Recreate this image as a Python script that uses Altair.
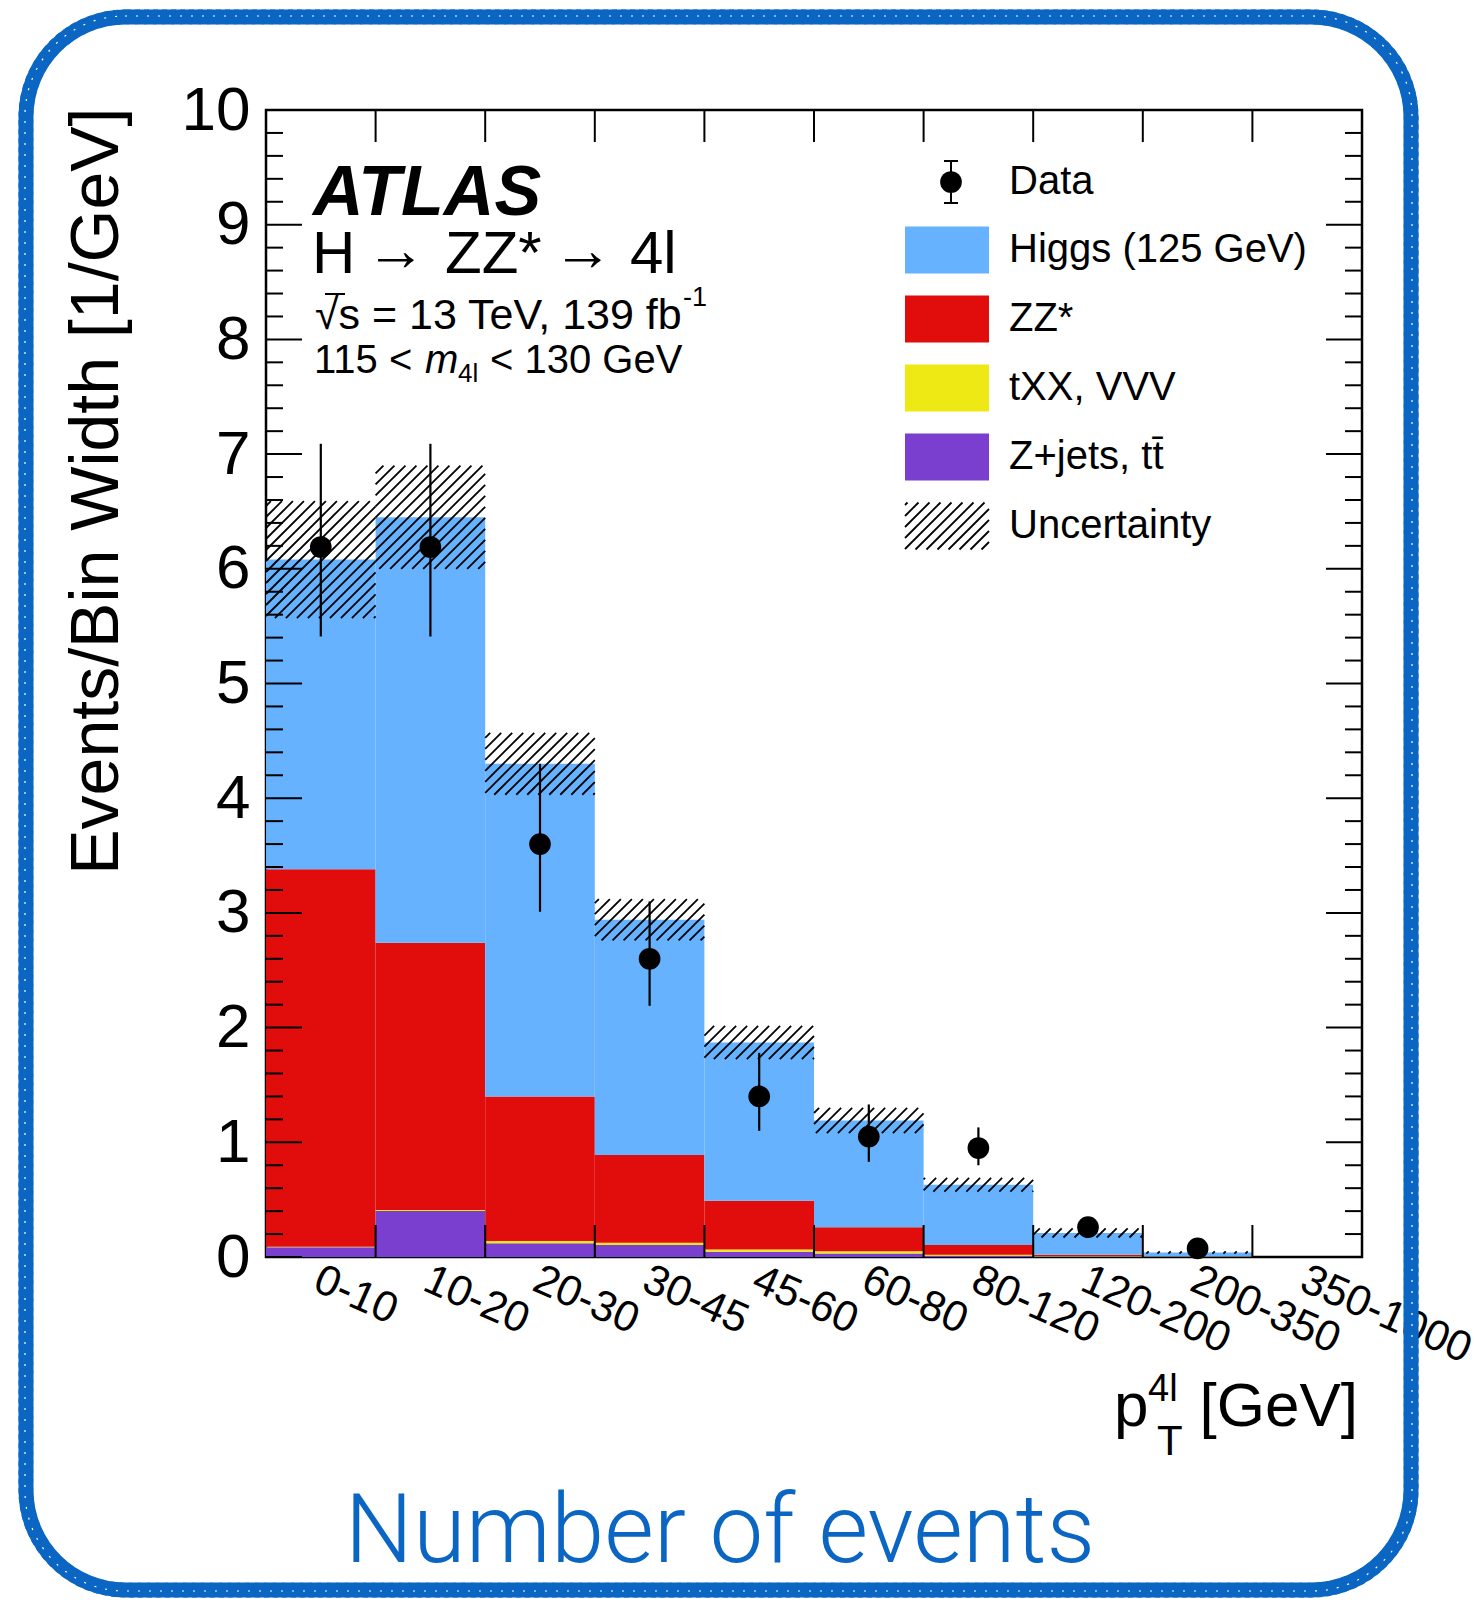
import altair as alt
import numpy as np
import pandas as pd

# ---------------------------------------------------------------- data
bin_labels = ["0-10", "10-20", "20-30", "30-45", "45-60", "60-80",
              "80-120", "120-200", "200-350", "350-1000"]

# expected yields per bin width, stacked bottom -> top
zjets_tt = [0.085, 0.40, 0.12, 0.105, 0.045, 0.03, 0.01, 0.004, 0.001, 0.0]
txx_vvv = [0.005, 0.01, 0.02, 0.02, 0.02, 0.02, 0.01, 0.004, 0.001, 0.0]
zz_star = [3.29, 2.33, 1.26, 0.765, 0.425, 0.21, 0.085, 0.012, 0.003, 0.0]
higgs = [2.70, 3.71, 2.90, 2.05, 1.38, 0.93, 0.525, 0.19, 0.035, 0.0]
# total uncertainty on the prediction (symmetric)
pred_unc = [0.51, 0.45, 0.27, 0.18, 0.145, 0.11, 0.06, 0.04, 0.01, 0.0]

# observed data (first nine bins)
data_val = [6.19, 6.19, 3.60, 2.60, 1.40, 1.05, 0.95, 0.26, 0.075]
data_lo = [5.41, 5.41, 3.01, 2.19, 1.10, 0.83, 0.80, 0.20, 0.05]
data_hi = [7.09, 7.09, 4.30, 3.10, 1.78, 1.33, 1.13, 0.32, 0.10]

process_names = ["Z+jets, t\u0074\u0304", "tXX, VVV", "ZZ*", "Higgs (125 GeV)"]
process_colors = ["#7b3fd0", "#eee914", "#e10c0c", "#66b2ff"]
process_values = [zjets_tt, txx_vvv, zz_star, higgs]

# ---------------------------------------------------------------- layout
W, H = 1096, 1147          # plot area
OX, OY = 266, 110          # plot origin on the page
PX_X = W / 10.0
PX_Y = H / 10.0
FONT = "Liberation Sans"
BLUE = "#0a66c2"


def dx(px):
    return px / PX_X


def dy(py):
    return (H - py) / PX_Y


label_js = "[" + ",".join("'%s'" % s for s in bin_labels) + "]"

x_scale = alt.Scale(domain=[0, 10], nice=False, zero=False)
y_scale = alt.Scale(domain=[0, 10], nice=False, zero=False)

# one axis definition shared by every layer so the layered axes merge
x_axis = alt.Axis(values=[i + 0.535 for i in range(10)],
                  labelExpr=label_js + "[floor(datum.value)]",
                  ticks=False, domain=False, grid=False,
                  labelAngle=24, labelAlign="left", labelBaseline="top",
                  labelFontSize=43, labelFont=FONT, labelColor="black",
                  labelPadding=1, labelOverlap=False, labelBound=False,
                  labelFlush=False, labelLimit=600, title=None)
y_axis = alt.Axis(values=list(range(11)), ticks=False, domain=False, grid=False,
                  labelFontSize=62, labelFont=FONT, labelColor="black",
                  labelPadding=16, labelOverlap=False, labelFlush=False,
                  title="Events/Bin Width [1/GeV]", titleFont=FONT,
                  titleFontSize=68, titleFontWeight="normal", titleColor="black",
                  titleAngle=270, titleAlign="right", titleBaseline="alphabetic",
                  titleX=117 - OX, titleY=107 - OY)


def X(field):
    return alt.X(field, scale=x_scale, axis=x_axis)


def Y(field):
    return alt.Y(field, scale=y_scale, axis=y_axis)


# ---------------------------------------------------------------- stacked histogram
rows = []
for i in range(len(bin_labels)):
    base = 0.0
    for name, vals in zip(process_names, process_values):
        v = vals[i]
        if v > 0:
            rows.append({"x0": i, "x1": i + 1, "y0": base, "y1": base + v, "process": name})
        base += v
stack_df = pd.DataFrame(rows)

totals = np.sum(np.array(process_values), axis=0)

stack = alt.Chart(stack_df).mark_rect().encode(
    x=X("x0:Q"), x2="x1:Q",
    y=Y("y0:Q"), y2="y1:Q",
    color=alt.Color("process:N", scale=alt.Scale(domain=process_names, range=process_colors),
                    legend=None),
)

# ---------------------------------------------------------------- hatching
HATCH_STEP = 11.0


def hatch(x0, x1, y0, y1):
    """45-degree hatch segments inside a pixel box (y0 top, y1 bottom)."""
    segs = []
    c = np.ceil((x0 + y0) / HATCH_STEP) * HATCH_STEP
    while c <= x1 + y1:
        xa = max(x0, c - y1)
        xb = min(x1, c - y0)
        if xb - xa > 0.5:
            segs.append({"x0": dx(xa), "y0": dy(c - xa), "x1": dx(xb), "y1": dy(c - xb)})
        c += HATCH_STEP
    return segs


hatch_rows = []
for i, (t, u) in enumerate(zip(totals, pred_unc)):
    if u <= 0:
        continue
    hatch_rows += hatch(i * PX_X, (i + 1) * PX_X, H - (t + u) * PX_Y, H - (t - u) * PX_Y)

# legend rows (page y of each entry centre)
legend_y = [182, 250, 319, 388, 457, 526]
BOX_X0, BOX_X1, BOX_H = 905, 989, 47
TEXT_X = 1009
MARK_X = 951

ly = legend_y[5] - OY
hatch_rows += hatch(BOX_X0 - OX, BOX_X1 - OX, ly - BOX_H / 2, ly + BOX_H / 2)
hatch_df = pd.DataFrame(hatch_rows)

hatch_layer = alt.Chart(hatch_df).mark_rule(color="black", strokeWidth=1.8).encode(
    x=X("x0:Q"), x2="x1:Q", y=Y("y0:Q"), y2="y1:Q",
)

# ---------------------------------------------------------------- data points
data_df = pd.DataFrame({
    "x0": [i + 0.5 for i in range(len(data_val))],
    "y0": data_val, "lo": data_lo, "hi": data_hi,
})
err_layer = alt.Chart(data_df).mark_rule(color="black", strokeWidth=2.2).encode(
    x=X("x0:Q"), y=Y("lo:Q"), y2="hi:Q",
)
pts_layer = alt.Chart(data_df).mark_circle(color="black", opacity=1, size=470).encode(
    x=X("x0:Q"), y=Y("y0:Q"),
)

# ---------------------------------------------------------------- inward ticks
yt = np.round(np.arange(0, 10.0001, 0.2), 3)
ytick_df = pd.DataFrame({"y0": yt, "major": [abs(v - round(v)) < 1e-6 for v in yt]})
major_df = ytick_df[ytick_df.major]
minor_df = ytick_df[~ytick_df.major]


def ytick(df, length, right):
    x0 = W if right else 0
    x1 = W - length if right else length
    return alt.Chart(df).mark_rule(color="black", strokeWidth=2).encode(
        y=Y("y0:Q"), x=alt.value(x0), x2=alt.value(x1),
    )


xtick_df = pd.DataFrame({"x0": list(range(1, 10))})


def xtick(top):
    y0, y1 = (0, 32) if top else (H, H - 32)
    return alt.Chart(xtick_df).mark_rule(color="black", strokeWidth=2).encode(
        x=X("x0:Q"), y=alt.value(y0), y2=alt.value(y1),
    )


tick_layers = [ytick(major_df, 36, False), ytick(minor_df, 17, False),
               ytick(major_df, 36, True), ytick(minor_df, 17, True),
               xtick(False), xtick(True)]


# ---------------------------------------------------------------- text helpers
def text(s, px, py, size, weight="normal", style="normal", align="left",
         baseline="alphabetic", color="black", font=FONT):
    return alt.Chart(pd.DataFrame({"t": [s]})).mark_text(
        align=align, baseline=baseline, fontSize=size, fontWeight=weight,
        fontStyle=style, font=font, color=color,
    ).encode(text="t:N", x=alt.value(px - OX), y=alt.value(py - OY))


def hline(px0, px1, py, width=2, color="black"):
    return alt.Chart(pd.DataFrame({"a": [0]})).mark_rule(color=color, strokeWidth=width).encode(
        x=alt.value(px0 - OX), x2=alt.value(px1 - OX), y=alt.value(py - OY))


def vline(px, py0, py1, width=2, color="black"):
    return alt.Chart(pd.DataFrame({"a": [0]})).mark_rule(color=color, strokeWidth=width).encode(
        x=alt.value(px - OX), y=alt.value(py0 - OY), y2=alt.value(py1 - OY))


annot = [
    text("ATLAS", 313, 215, 70, weight="bold", style="italic"),
    text("H", 312, 273, 60),
    text("\u2192", 366, 270, 60),
    text("ZZ*", 445, 273, 60),
    text("\u2192", 553, 270, 60),
    text("4l", 630, 273, 60),
    text("\u221as = 13 TeV, 139 fb", 315, 329, 43),
    hline(325, 345, 294, width=2),
    text("-1", 683, 306, 27),
    text("115 <", 314, 373, 40),
    text("m", 425, 373, 40, style="italic"),
    text("4l", 458, 382, 26),
    text("< 130 GeV", 490, 373, 40),
    # x-axis title
    text("p", 1114, 1426, 62),
    text("4l", 1148, 1401, 38),
    text("T", 1157, 1455, 42),
    text("[GeV]", 1358, 1426, 62, align="right"),
]

# ---------------------------------------------------------------- legend
legend_layers = []
legend_labels = ["Data"] + process_names[::-1] + ["Uncertainty"]
for k, lab in enumerate(legend_labels):
    legend_layers.append(text(lab, TEXT_X, legend_y[k], 40, baseline="middle"))

for k, (name, col) in enumerate(zip(process_names[::-1], process_colors[::-1])):
    yc = legend_y[k + 1]
    legend_layers.append(
        alt.Chart(pd.DataFrame({"a": [0]})).mark_rect(color=col).encode(
            x=alt.value(BOX_X0 - OX), x2=alt.value(BOX_X1 - OX),
            y=alt.value(yc - BOX_H / 2 - OY), y2=alt.value(yc + BOX_H / 2 - OY)))

yd = legend_y[0]
legend_layers += [
    vline(MARK_X, yd - 21, yd + 21),
    hline(MARK_X - 7, MARK_X + 7, yd - 21),
    hline(MARK_X - 7, MARK_X + 7, yd + 21),
    alt.Chart(pd.DataFrame({"a": [0]})).mark_circle(color="black", opacity=1, size=470).encode(
        x=alt.value(MARK_X - OX), y=alt.value(yd - OY)),
]


# ---------------------------------------------------------------- frame + caption
def frame(inset, width, color, dash=None, radius=100):
    kw = dict(fillOpacity=0, stroke=color, strokeWidth=width, cornerRadius=radius)
    if dash:
        kw["strokeDash"] = dash
    return alt.Chart(pd.DataFrame({"a": [0]})).mark_rect(**kw).encode(
        x=alt.value(26 - inset - OX), x2=alt.value(1411 + inset - OX),
        y=alt.value(17 - inset - OY), y2=alt.value(1590 + inset - OY))


border = [
    frame(0, 15, BLUE),
    frame(6, 3, BLUE, dash=[5, 4], radius=106),
    frame(-6, 2.5, BLUE, dash=[3, 6], radius=94),
    frame(1, 1.2, "white", dash=[2, 9]),
]

caption = text("Number of events", 720, 1562, 96, color=BLUE, font="Roboto", weight=300,
               align="center")

chart = alt.layer(
    stack, hatch_layer, *tick_layers, err_layer, pts_layer,
    *annot, *legend_layers, *border, caption,
).properties(
    width=W, height=H,
    autosize=alt.AutoSizeParams(type="none"),
    padding={"left": OX, "top": OY, "right": 1474 - OX - W, "bottom": 1603 - OY - H},
    background="white",
).configure_view(stroke="black", strokeWidth=2.5)

chart.save("out.html", embed_options={"renderer": "svg", "actions": False})
